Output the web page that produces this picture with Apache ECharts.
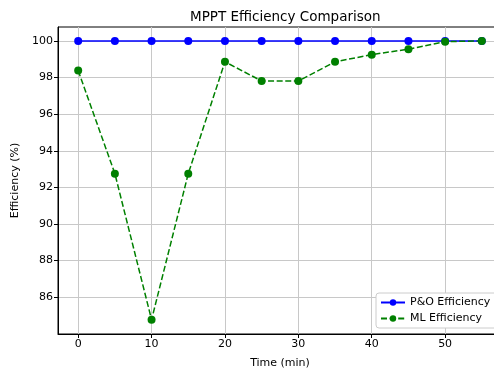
<!DOCTYPE html>
<html lang="en" style="height: 100%">
<head>
    <meta charset="utf-8">
    <script src="https://cdn.jsdelivr.net/npm/echarts@6.0.0/dist/echarts.min.js"></script>
    <title>MPPT Efficiency Comparison</title>
</head>
<body style="height: 100%; margin: 0; overflow: hidden">
<!-- wider than the window: the right spine sits just past the picture edge -->
<div id="container" style="width: 520px; height: 374px"></div>

<script type="text/javascript">
    // time points (min)
    var timeMin = [0, 5, 10, 15, 20, 25, 30, 35, 40, 45, 50, 55];
    var poEfficiency = [100, 100, 100, 100, 100, 100, 100, 100, 100, 100, 100, 100];
    var mlEfficiency = [98.38, 92.75, 84.77, 92.75, 98.86, 97.81, 97.81, 98.86, 99.25, 99.55, 99.96, 100];
    var xTicks = [0, 10, 20, 30, 40, 50];
    var yTicks = [86, 88, 90, 92, 94, 96, 98, 100];

    function pairs(ys) {
        return timeMin.map(function (t, i) { return [t, ys[i]]; });
    }

    var myChart = echarts.init(document.getElementById('container'), null, {renderer: 'canvas'});
    var font = 'DejaVu Sans';

    var option = {
        backgroundColor: '#fff',
        animation: false,
        title: {
            text: 'MPPT Efficiency Comparison',
            left: 185,
            top: 5,
            textStyle: {fontFamily: font, fontSize: 13.5, fontWeight: 'normal', color: '#000'}
        },
        legend: {
            orient: 'vertical',
            left: 376,
            top: 293,
            itemWidth: 24,
            itemHeight: 8,
            itemGap: 5,
            padding: [4, 8, 4, 4],
            borderColor: '#ccc',
            borderWidth: 1,
            borderRadius: 3,
            backgroundColor: '#fff',
            textStyle: {fontFamily: font, fontSize: 11, color: '#000'},
            data: ['P&O Efficiency', 'ML Efficiency']
        },
        grid: {
            left: 58,
            top: 27,
            width: 444,
            height: 310,
            show: true,
            borderColor: '#000',
            borderWidth: 1,
            backgroundColor: 'transparent'
        },
        xAxis: {
            type: 'value',
            min: -2.75,
            max: 57.75,
            name: 'Time (min)',
            nameLocation: 'middle',
            nameGap: 24,
            nameTextStyle: {fontFamily: font, fontSize: 11, color: '#000'},
            axisLine: {onZero: false, lineStyle: {color: '#000', width: 1}},
            axisTick: {length: 4, customValues: xTicks, lineStyle: {color: '#000'}},
            axisLabel: {customValues: xTicks, fontFamily: font, fontSize: 11, color: '#000', margin: 5},
            splitLine: {show: true, lineStyle: {color: '#c8c8c8', width: 1}}
        },
        yAxis: {
            type: 'value',
            min: 83.99,
            max: 100.76,
            name: 'Efficiency (%)',
            nameLocation: 'middle',
            nameGap: 35,
            nameTextStyle: {fontFamily: font, fontSize: 11, color: '#000'},
            axisLine: {show: true, onZero: false, lineStyle: {color: '#000', width: 1}},
            axisTick: {show: true, length: 4, customValues: yTicks, lineStyle: {color: '#000'}},
            axisLabel: {customValues: yTicks, fontFamily: font, fontSize: 11, color: '#000', margin: 5},
            splitLine: {show: true, lineStyle: {color: '#c8c8c8', width: 1}}
        },
        series: [
            {
                name: 'P&O Efficiency',
                type: 'line',
                data: pairs(poEfficiency),
                symbol: 'circle',
                symbolSize: 8,
                color: '#0000ff',
                lineStyle: {color: '#0000ff', width: 1.5},
                itemStyle: {color: '#0000ff'}
            },
            {
                name: 'ML Efficiency',
                type: 'line',
                data: pairs(mlEfficiency),
                symbol: 'circle',
                symbolSize: 8,
                color: '#008000',
                lineStyle: {color: '#008000', width: 1.5, type: [6, 2.6]},
                itemStyle: {color: '#008000'}
            }
        ]
    };

    myChart.setOption(option);
</script>
</body>
</html>
